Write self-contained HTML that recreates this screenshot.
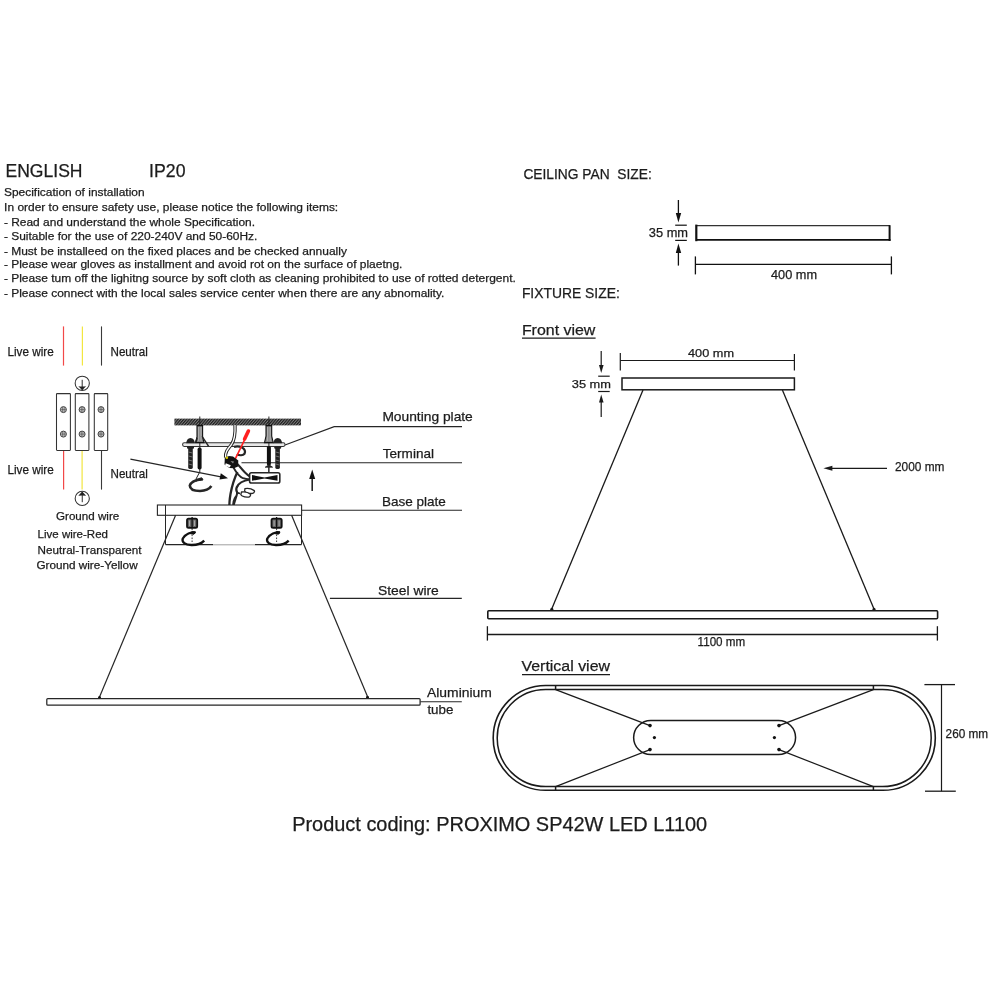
<!DOCTYPE html>
<html><head><meta charset="utf-8">
<style>
html,body{margin:0;padding:0;background:#fff;width:1000px;height:1000px;overflow:hidden}
svg{display:block;will-change:transform}
text{font-family:"Liberation Sans",sans-serif;fill:#1c1c1c;white-space:pre;stroke:#1c1c1c;stroke-width:0.25px}
</style></head><body>
<svg width="1000" height="1000" viewBox="0 0 1000 1000">
<rect x="0" y="0" width="1000" height="1000" fill="#fff"/>
<defs>
<pattern id="hatch" width="2.8" height="7" patternUnits="userSpaceOnUse" patternTransform="skewX(-40)">
<rect width="2.8" height="7" fill="#7a7a7a"/>
<rect width="1.5" height="7" fill="#1e1e1e"/>
</pattern>
</defs>

<!-- ===== top-left text ===== -->
<g id="toptext">
<text x="5.5" y="176.6" font-size="17.5" textLength="77" lengthAdjust="spacingAndGlyphs">ENGLISH</text>
<text x="149.1" y="176.6" font-size="17.7" textLength="36.4" lengthAdjust="spacingAndGlyphs">IP20</text>
<g font-size="11.7">
<text x="4" y="196.2" textLength="140.6" lengthAdjust="spacingAndGlyphs">Specification of installation</text>
<text x="4.1" y="210.8" textLength="334.1" lengthAdjust="spacingAndGlyphs">In order to ensure safety use, please notice the following items:</text>
<text x="3.9" y="225.9" textLength="251.2" lengthAdjust="spacingAndGlyphs">- Read and understand the whole Specification.</text>
<text x="3.9" y="239.8" textLength="253.5" lengthAdjust="spacingAndGlyphs">- Suitable for the use of 220-240V and 50-60Hz.</text>
<text x="3.9" y="254.5" textLength="343" lengthAdjust="spacingAndGlyphs">- Must be installeed on the fixed places and be checked annually</text>
<text x="3.9" y="268.3" textLength="398.5" lengthAdjust="spacingAndGlyphs">- Please wear gloves as installment and avoid rot on the surface of plaetng.</text>
<text x="3.9" y="282.1" textLength="511.9" lengthAdjust="spacingAndGlyphs">- Please tum off the lighitng source by soft cloth as cleaning prohibited to use of rotted detergent.</text>
<text x="3.9" y="296.6" textLength="440.5" lengthAdjust="spacingAndGlyphs">- Please connect with the local sales service center when there are any abnomality.</text>
</g>
</g>

<!-- ===== ceiling pan ===== -->
<g id="ceiling" stroke="#111" fill="none">
<text x="523.4" y="178.8" font-size="14.5" textLength="128.4" lengthAdjust="spacingAndGlyphs" stroke="none">CEILING PAN  SIZE:</text>
<line x1="696" y1="225.6" x2="890" y2="225.6" stroke="#333" stroke-width="1.4"/>
<line x1="696" y1="239.9" x2="890.5" y2="239.9" stroke="#111" stroke-width="1.9"/>
<line x1="696.3" y1="224.6" x2="696.3" y2="241.2" stroke-width="2.2"/>
<line x1="889.6" y1="225.2" x2="889.6" y2="241" stroke-width="2"/>
<line x1="678.4" y1="200" x2="678.4" y2="214" stroke-width="1.3"/>
<polygon points="675.8,213 681.2,213 678.4,222.4" fill="#111" stroke="none"/>
<line x1="675.2" y1="225.2" x2="686.8" y2="225.2" stroke-width="1.2"/>
<line x1="675.2" y1="240.4" x2="686.8" y2="240.4" stroke-width="1.2"/>
<polygon points="675.8,253 681.2,253 678.4,243.6" fill="#111" stroke="none"/>
<line x1="678.4" y1="252" x2="678.4" y2="265.6" stroke-width="1.3"/>
<text x="648.8" y="236.8" font-size="12.5" textLength="39.2" lengthAdjust="spacingAndGlyphs" stroke="none">35 mm</text>
<line x1="695.4" y1="264.4" x2="891.4" y2="264.4" stroke-width="1.3"/>
<line x1="695.4" y1="256.4" x2="695.4" y2="274.4" stroke-width="1.3"/>
<line x1="891.4" y1="256.4" x2="891.4" y2="274.4" stroke-width="1.3"/>
<text x="771" y="279" font-size="12.5" textLength="46" lengthAdjust="spacingAndGlyphs" stroke="none">400 mm</text>
</g>

<!-- ===== front view ===== -->
<g id="front" stroke="#1a1a1a" fill="none">
<text x="521.9" y="297.5" font-size="14.2" textLength="97.9" lengthAdjust="spacingAndGlyphs" stroke="none">FIXTURE SIZE:</text>
<text x="521.9" y="334.8" font-size="15.3" textLength="73.5" lengthAdjust="spacingAndGlyphs" stroke="none">Front view</text>
<line x1="522" y1="338.2" x2="595.6" y2="338.2" stroke-width="1.2"/>
<text x="688" y="356.5" font-size="11.2" textLength="46" lengthAdjust="spacingAndGlyphs" stroke="none">400 mm</text>
<line x1="620.3" y1="360.5" x2="794.4" y2="360.5" stroke-width="1.2"/>
<line x1="620.3" y1="353" x2="620.3" y2="370.4" stroke-width="1.2"/>
<line x1="794.4" y1="354" x2="794.4" y2="370.4" stroke-width="1.2"/>
<rect x="622" y="378" width="172.4" height="11.8" stroke-width="1.5"/>
<line x1="601.2" y1="351" x2="601.2" y2="366" stroke-width="1.2"/>
<polygon points="599,365 603.6,365 601.2,373" fill="#1a1a1a" stroke="none"/>
<line x1="598.2" y1="376.2" x2="609.7" y2="376.2" stroke-width="1.2"/>
<line x1="598.2" y1="391.5" x2="609.7" y2="391.5" stroke-width="1.2"/>
<polygon points="599,402.5 603.6,402.5 601.2,394.5" fill="#1a1a1a" stroke="none"/>
<line x1="601.2" y1="402" x2="601.2" y2="417" stroke-width="1.2"/>
<text x="571.8" y="387.5" font-size="11.2" textLength="39.2" lengthAdjust="spacingAndGlyphs" stroke="none">35 mm</text>
<line x1="643" y1="390" x2="551.4" y2="609.8" stroke-width="1.3"/>
<line x1="782.4" y1="390" x2="874.3" y2="609.7" stroke-width="1.3"/>
<rect x="487.8" y="610.8" width="449.8" height="8" rx="1" stroke-width="1.6"/>
<line x1="487.4" y1="634.5" x2="937.4" y2="634.5" stroke-width="1.3"/>
<line x1="487.4" y1="626.2" x2="487.4" y2="640.6" stroke-width="1.3"/>
<line x1="937.4" y1="626.2" x2="937.4" y2="640.6" stroke-width="1.3"/>
<text x="697.6" y="645.8" font-size="12.3" textLength="47.6" lengthAdjust="spacingAndGlyphs" stroke="none">1100 mm</text>
<line x1="831" y1="468.3" x2="887" y2="468.3" stroke-width="1.2"/>
<polygon points="823.4,468.3 832.4,465.8 832.4,470.8" fill="#1a1a1a" stroke="none"/>
<text x="895" y="471.1" font-size="12.5" textLength="49.4" lengthAdjust="spacingAndGlyphs" stroke="none">2000 mm</text>
<circle cx="551.8" cy="609.4" r="1.6" fill="#1a1a1a" stroke="none"/>
<circle cx="874" cy="609.4" r="1.6" fill="#1a1a1a" stroke="none"/>
</g>

<!-- ===== vertical view ===== -->
<g id="vert" stroke="#1a1a1a" fill="none">
<text x="521.5" y="671" font-size="15.3" textLength="88.5" lengthAdjust="spacingAndGlyphs" stroke="none">Vertical view</text>
<line x1="522" y1="674.6" x2="610" y2="674.6" stroke-width="1.2"/>
<path d="M545.6,685.5 H882.9 A52.4,52.4 0 0 1 882.9,790.3 H545.6 A52.4,52.4 0 0 1 545.6,685.5 Z" stroke-width="1.6"/>
<path d="M545.7,689.6 H882.7 A48.5,48.5 0 0 1 882.7,786.6 H545.7 A48.5,48.5 0 0 1 545.7,689.6 Z" stroke-width="1.5"/>
<path d="M650.7,720.4 H778.5 A17.1,17.1 0 0 1 778.5,754.6 H650.7 A17.1,17.1 0 0 1 650.7,720.4 Z" stroke-width="1.5"/>
<line x1="555.6" y1="689.6" x2="650" y2="725.6" stroke-width="1.2"/>
<line x1="555.6" y1="786.6" x2="650" y2="749.6" stroke-width="1.2"/>
<line x1="873.4" y1="689.6" x2="779" y2="725.6" stroke-width="1.2"/>
<line x1="873.4" y1="786.6" x2="779" y2="749.6" stroke-width="1.2"/>
<line x1="555.6" y1="685" x2="555.6" y2="690" stroke-width="1.5"/>
<line x1="555.6" y1="786" x2="555.6" y2="791" stroke-width="1.5"/>
<line x1="873.4" y1="685" x2="873.4" y2="690" stroke-width="1.5"/>
<line x1="873.4" y1="786" x2="873.4" y2="791" stroke-width="1.5"/>
<g fill="#111" stroke="none">
<circle cx="650" cy="725.6" r="1.8"/><circle cx="654.4" cy="737.6" r="1.6"/><circle cx="650" cy="749.6" r="1.8"/>
<circle cx="779" cy="725.6" r="1.8"/><circle cx="774.4" cy="737.6" r="1.6"/><circle cx="779" cy="749.6" r="1.8"/>
</g>
<line x1="941.5" y1="684.6" x2="941.5" y2="791.2" stroke-width="1.2"/>
<line x1="924.4" y1="684.6" x2="955" y2="684.6" stroke-width="1.3"/>
<line x1="925" y1="791.2" x2="955.8" y2="791.2" stroke-width="1.3"/>
<text x="945.6" y="738" font-size="12.5" textLength="42.5" lengthAdjust="spacingAndGlyphs" stroke="none">260 mm</text>
</g>

<text x="292.2" y="830.8" font-size="19.8" textLength="415" lengthAdjust="spacingAndGlyphs">Product coding: PROXIMO SP42W LED L1100</text>

<!-- ===== left wiring ===== -->
<g id="wiring">
<g font-size="11.6">
<text x="7.5" y="356.3" font-size="12.2" textLength="46.2" lengthAdjust="spacingAndGlyphs">Live wire</text>
<text x="110.5" y="356.3" font-size="12.2" textLength="37.4" lengthAdjust="spacingAndGlyphs">Neutral</text>
<text x="7.5" y="474.3" font-size="12.2" textLength="46.2" lengthAdjust="spacingAndGlyphs">Live wire</text>
<text x="110.5" y="478.3" font-size="12.2" textLength="37.4" lengthAdjust="spacingAndGlyphs">Neutral</text>
<text x="56" y="519.5" textLength="63.2" lengthAdjust="spacingAndGlyphs">Ground wire</text>
<text x="37.6" y="537.9" textLength="70.4" lengthAdjust="spacingAndGlyphs">Live wire-Red</text>
<text x="37.6" y="553.9" textLength="104" lengthAdjust="spacingAndGlyphs">Neutral-Transparent</text>
<text x="36.5" y="568.8" textLength="101.1" lengthAdjust="spacingAndGlyphs">Ground wire-Yellow</text>
</g>
<line x1="63.5" y1="326.4" x2="63.5" y2="365.6" stroke="#f24848" stroke-width="1.2"/>
<line x1="82.4" y1="326.4" x2="82.4" y2="365.6" stroke="#f2e640" stroke-width="1.2"/>
<line x1="101.5" y1="326.4" x2="101.5" y2="365.6" stroke="#3a3a3a" stroke-width="1.1"/>
<line x1="63.6" y1="450.4" x2="63.6" y2="489.6" stroke="#f24848" stroke-width="1.2"/>
<line x1="82.1" y1="450.4" x2="82.1" y2="489.6" stroke="#f2e640" stroke-width="1.2"/>
<line x1="101.5" y1="450.4" x2="101.5" y2="489.6" stroke="#3a3a3a" stroke-width="1.1"/>
<g stroke="#333" fill="none" stroke-width="1.05">
<rect x="56.5" y="393.6" width="13.9" height="56.8" rx="0.6"/>
<rect x="75.3" y="393.6" width="13.6" height="56.8" rx="0.6"/>
<rect x="94.3" y="393.6" width="13.4" height="56.8" rx="0.6"/>
<circle cx="82.25" cy="383.25" r="7.1"/>
<circle cx="82.25" cy="498.4" r="7.1"/>
</g>
<g fill="#222">
<path d="M78.3,386.2 Q82.2,386.9 86.1,386.2 L82.4,390 L82,390 Z"/>
<line x1="82.2" y1="379.8" x2="82.2" y2="389.6" stroke="#222" stroke-width="0.95"/>
<path d="M78.3,495.8 Q82.3,495.1 86.1,495.8 L82.4,491.8 L82,491.8 Z"/>
<line x1="82.25" y1="491.8" x2="82.25" y2="502.2" stroke="#222" stroke-width="0.95"/>
</g>
<g fill="#d0d0d0" stroke="#333" stroke-width="0.9">
<circle cx="63.4" cy="409.6" r="3"/><circle cx="82.1" cy="409.6" r="3"/><circle cx="101" cy="409.6" r="3"/>
<circle cx="63.4" cy="434.1" r="3"/><circle cx="82.1" cy="434.1" r="3"/><circle cx="101" cy="434.1" r="3"/>
</g>
<g stroke="#444" stroke-width="0.6">
<path d="M62.6,407 V412.2 M64.2,407 V412.2 M60.6,409.6 H66.2"/>
<path d="M81.3,407 V412.2 M82.9,407 V412.2 M79.3,409.6 H84.9"/>
<path d="M100.2,407 V412.2 M101.8,407 V412.2 M98.2,409.6 H103.8"/>
<path d="M62.6,431.5 V436.7 M64.2,431.5 V436.7 M60.6,434.1 H66.2"/>
<path d="M81.3,431.5 V436.7 M82.9,431.5 V436.7 M79.3,434.1 H84.9"/>
<path d="M100.2,431.5 V436.7 M101.8,431.5 V436.7 M98.2,434.1 H103.8"/>
</g>
</g>

<!-- ===== installation drawing ===== -->
<g id="install" stroke="#262626" fill="none">
<g font-size="13.2" stroke="none">
<text x="382.4" y="420.7" textLength="90.4" lengthAdjust="spacingAndGlyphs">Mounting plate</text>
<text x="382.8" y="457.6" textLength="51.2" lengthAdjust="spacingAndGlyphs">Terminal</text>
<text x="381.9" y="505.8" textLength="63.9" lengthAdjust="spacingAndGlyphs">Base plate</text>
<text x="378" y="594.8" textLength="60.8" lengthAdjust="spacingAndGlyphs">Steel wire</text>
<text x="427" y="697.4" textLength="64.8" lengthAdjust="spacingAndGlyphs">Aluminium</text>
<text x="427.4" y="714" textLength="26" lengthAdjust="spacingAndGlyphs">tube</text>
</g>
<!-- leaders -->
<g stroke-width="1.15">
<polyline points="285,445 334.2,426.6 462,426.6"/>
<line x1="241.5" y1="462.7" x2="462" y2="462.7"/>
<line x1="301.7" y1="510.2" x2="462" y2="510.2"/>
<line x1="329.9" y1="598.4" x2="461.8" y2="598.4"/>
<line x1="420.3" y1="701.7" x2="461.8" y2="701.7"/>
</g>
<!-- ceiling -->
<rect x="174.4" y="418.6" width="126.6" height="6.8" fill="url(#hatch)" stroke="none"/>
<!-- mounting plate -->
<rect x="182.6" y="442.8" width="102.4" height="3.6" rx="1.6" fill="#e8e8e8" stroke="#333" stroke-width="1.05"/>
<!-- anchors -->
<line x1="199.8" y1="416.5" x2="199.8" y2="472.5" stroke-width="1"/>
<path d="M197,425.6 H202.6 V437 L204,442.6 H195.6 L197,437 Z" fill="#8a8a8a" stroke="#111" stroke-width="1.1"/>
<line x1="198.6" y1="427" x2="198.6" y2="441" stroke="#ccc" stroke-width="0.6"/>
<line x1="201" y1="427" x2="201" y2="441" stroke="#ccc" stroke-width="0.6"/>
<polygon points="201.5,436.4 203,436.6 209.6,446.4 207.8,446.4" fill="#222" stroke="none"/>
<polygon points="196.8,437 195,441.8 196.6,442 197.8,438.4" fill="#222" stroke="none"/>
<rect x="197.6" y="447.6" width="4" height="21.8" rx="1.6" fill="#111" stroke="none"/>
<line x1="268.9" y1="416.5" x2="268.9" y2="472.5" stroke-width="1"/>
<path d="M266,425.6 H271.7 V436 L273.2,442.6 H264.5 L266,436 Z" fill="#8a8a8a" stroke="#111" stroke-width="1.1"/>
<line x1="267.6" y1="427" x2="267.6" y2="441" stroke="#ccc" stroke-width="0.6"/>
<line x1="270.2" y1="427" x2="270.2" y2="441" stroke="#ccc" stroke-width="0.6"/>
<rect x="266.9" y="446" width="4" height="19.6" rx="1.6" fill="#111" stroke="none"/>
<path d="M265.2,467.2 L268.9,464.8 L272.6,467.2 Z" fill="#222" stroke="#222" stroke-width="0.8"/>
<!-- bolts -->
<path d="M186.2,443.2 Q186.5,438.3 190.5,437.9 Q194.6,438.3 194.9,443.2 Z" fill="#222" stroke="none"/>
<rect x="187" y="446.2" width="7" height="2.6" rx="1" fill="#222" stroke="none"/>
<rect x="188.2" y="447" width="4.6" height="22" rx="1.4" fill="#222" stroke="none"/>
<g stroke="#bbb" stroke-width="0.5">
<line x1="188.6" y1="452" x2="192.4" y2="453"/><line x1="188.6" y1="456" x2="192.4" y2="457"/><line x1="188.6" y1="460" x2="192.4" y2="461"/><line x1="188.6" y1="464" x2="192.4" y2="465"/>
</g>
<path d="M273.4,443.2 Q273.7,438.3 277.7,437.9 Q281.8,438.3 282.1,443.2 Z" fill="#222" stroke="none"/>
<rect x="274.2" y="446.2" width="7" height="2.6" rx="1" fill="#222" stroke="none"/>
<rect x="275.3" y="447" width="4.6" height="22" rx="1.4" fill="#222" stroke="none"/>
<g stroke="#bbb" stroke-width="0.5">
<line x1="275.7" y1="452" x2="279.5" y2="453"/><line x1="275.7" y1="456" x2="279.5" y2="457"/><line x1="275.7" y1="460" x2="279.5" y2="461"/><line x1="275.7" y1="464" x2="279.5" y2="465"/>
</g>
<!-- hook 1 -->
<line x1="199.2" y1="473" x2="196" y2="479" stroke-width="1"/>
<path d="M202,478.5 Q191,481 189.8,485.5 Q190,491 200,491 Q208,490.8 211.4,486" stroke-width="2.6"/>
<path d="M196,481 L202,478 L203,480 Z" fill="#111" stroke-width="1"/>
<!-- neutral arrow -->
<line x1="130.4" y1="459.2" x2="221" y2="476.8" stroke-width="1.2"/>
<polygon points="228,478.2 219.5,479.4 220.8,473.2" fill="#111" stroke="none"/>
<!-- arrow up -->
<line x1="312.2" y1="477" x2="312.2" y2="491" stroke-width="1.6"/>
<polygon points="312.2,469.5 309.2,479 315.2,479" fill="#111" stroke="none"/>
<!-- cable from ceiling -->
<path d="M235,425 C235.4,433 235.2,439 231.5,444.5 C227,450 225,452.5 225.6,457.5" stroke-width="3.3"/>
<path d="M235,425 C235.4,433 235.2,439 231.5,444.5 C227,450 225,452.5 225.6,457.5" stroke="#fff" stroke-width="1.3"/>
<!-- wires -->
<path d="M236.5,463 C239.5,466 242,469.5 245,472.5 C246.5,474 248,475.5 250,476.5" stroke-width="2"/>
<path d="M233.5,467.5 C236,472 238,476 243,478.2 C245,479 247.5,479.3 250,479.3" stroke-width="1.8"/>
<path d="M237.4,472 C234.5,478 232,486 230.5,494 C229.5,500 229.3,505 229.5,507" stroke-width="2.3"/>
<path d="M250,479.5 C243,480.5 238.5,483 236.5,487.5 C235.5,490 237.5,491.5 237,494 C236.2,498 234,502 233.5,507" stroke-width="2"/>
<path d="M238,486 C235,489 236,493 240,493.5" stroke-width="1.7"/>
<path d="M236,496 C233,500 232.8,504 233.2,507" stroke-width="1.6"/>
<path d="M245,488.6 C248,488 252,489 254.3,490.6 C255,492.3 253.5,493.5 251,493.5 C248,493.5 245.5,492.5 244.6,491 Z" fill="#fff" stroke-width="1.3"/>
<path d="M241.5,492 C244.5,491.5 248.5,492.5 250.5,494.2 C251,496 249.5,497.4 247,497.2 C244,497 241.5,496 240.8,494.5 Z" fill="#fff" stroke-width="1.3"/>
<!-- loop -->
<path d="M234,446.8 C236.5,446.2 239.5,446.2 242,447.5 C244.8,449 245.7,451.5 244.5,453.7 C243,455.5 239.5,455.6 236.8,454.3" stroke-width="2.3"/>
<!-- red screwdriver -->
<line x1="248.4" y1="431" x2="244.6" y2="439" stroke="#ff2020" stroke-width="3.6" stroke-linecap="round"/>
<line x1="245" y1="439" x2="234.8" y2="459.8" stroke="#ff2020" stroke-width="1.7"/>
<!-- connector black block -->
<path d="M224.8,458 L229,456 L233,456.5 L238.3,460.5 L238,466.5 L234,468.3 L229.5,468 L224.5,464.5 Z" fill="#111" stroke="none"/>
<path d="M225.8,463.2 L230.8,465.2 L229.8,467.6 L225,465.5 Z" fill="#fff" stroke="none"/>
<path d="M230.5,461 L234,461.5 L233,463.5 Z" fill="#888" stroke="none"/>
<circle cx="226.8" cy="457.8" r="1.3" fill="#d8c800" stroke="none"/>
<!-- connector box -->
<line x1="268.8" y1="466" x2="268.8" y2="472.8" stroke-width="1"/>
<rect x="249.6" y="472.8" width="30.2" height="10.2" rx="1.8" fill="#fff" stroke-width="1.6"/>
<path d="M252,475 L264.5,477.6 L277.5,475 L277.5,480.8 L264.5,478.4 L252,480.8 Z" fill="#111" stroke="none"/>
<!-- base plate -->
<rect x="157.4" y="505" width="144.2" height="10.3" fill="#fff" stroke-width="1.1"/>
<line x1="165.5" y1="505" x2="165.5" y2="544.6" stroke-width="1"/>
<line x1="301.5" y1="515.3" x2="301.5" y2="544.6" stroke-width="1"/>
<line x1="165.5" y1="544.6" x2="213" y2="544.6" stroke-width="1.1"/>
<line x1="213" y1="544.8" x2="255" y2="544.8" stroke="#888" stroke-width="0.8"/>
<line x1="255" y1="544.6" x2="301.5" y2="544.6" stroke-width="1.1"/>
<!-- nuts -->
<g id="nut1">
<rect x="187" y="518.6" width="10.2" height="9.2" rx="1.6" fill="#666" stroke="#111" stroke-width="1.8"/>
<line x1="192.1" y1="517" x2="192.1" y2="528.5" stroke="#111" stroke-width="1.3"/>
<line x1="189.6" y1="520.5" x2="189.6" y2="526" stroke="#ddd" stroke-width="0.6"/>
<line x1="194.6" y1="520.5" x2="194.6" y2="526" stroke="#ddd" stroke-width="0.6"/>
<line x1="192.1" y1="528.5" x2="192.1" y2="542" stroke="#222" stroke-width="0.9" stroke-dasharray="1.6,1.4"/>
<path d="M195.5,532.4 C191,532 185.5,534 182.8,538.5 C181.5,542 185,545.2 192,545 C198,545 202,543 204.2,540.6" stroke="#111" stroke-width="2.3"/>
<path d="M189.5,533.5 L192.5,531.5 L195.5,532.2 L194,534.2 Z" fill="#111" stroke="#111" stroke-width="1"/>
</g>
<use href="#nut1" transform="translate(84.5 0)"/>
<!-- steel wires -->
<line x1="175.6" y1="515.3" x2="99.3" y2="697.5" stroke-width="1.2"/>
<line x1="291.6" y1="515.3" x2="367.7" y2="696.9" stroke-width="1.2"/>
<circle cx="99.5" cy="697.6" r="1.5" fill="#111" stroke="none"/>
<circle cx="367.5" cy="697.2" r="1.5" fill="#111" stroke="none"/>
<!-- aluminium tube -->
<rect x="46.8" y="698.6" width="373.3" height="6.6" rx="1" stroke-width="1.25"/>
</g>

</svg>
</body></html>
